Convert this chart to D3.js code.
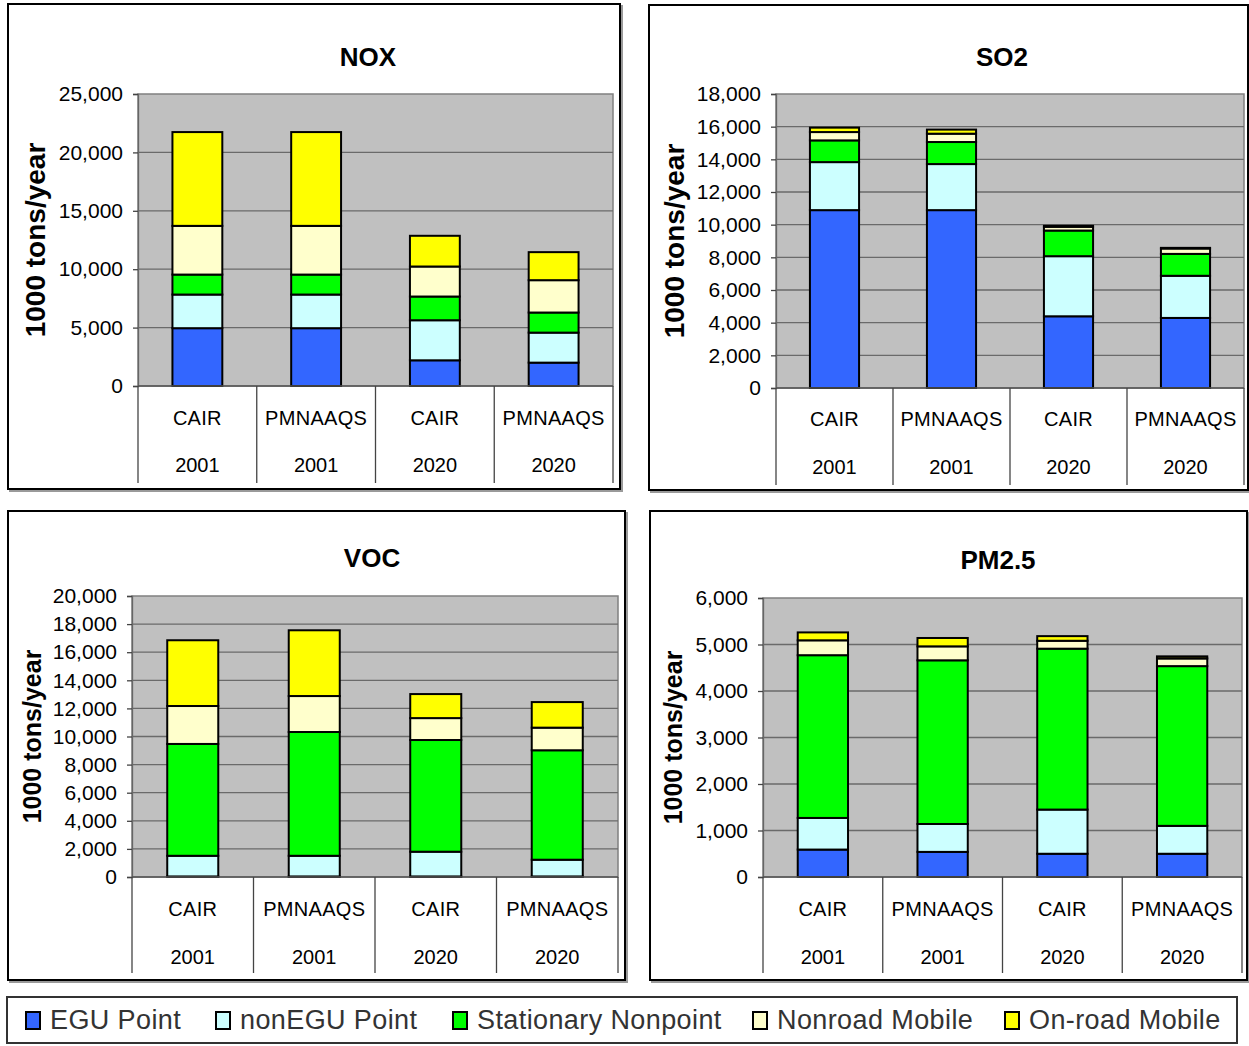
<!DOCTYPE html>
<html>
<head>
<meta charset="utf-8">
<script src="https://cdn.jsdelivr.net/npm/d3@7/dist/d3.min.js"></script>
<style>
  html, body { margin: 0; padding: 0; background: #fff; }
  svg { display: block; font-family: "Liberation Sans", Arial, sans-serif; }
</style>
</head>
<body>
<svg id="chart" width="1249" height="1046"></svg>
<script>
// Emission sectors stacked in every bar (bottom to top)
const sectors = ["EGU Point", "nonEGU Point", "Stationary Nonpoint", "Nonroad Mobile", "On-road Mobile"];
const sectorColors = ["#3366ff", "#ccffff", "#00ff00", "#ffffcc", "#ffff00"];

// Scenario / year pairs along the category axis
const scenarios = ["CAIR", "PMNAAQS", "CAIR", "PMNAAQS"];
const years = ["2001", "2001", "2020", "2020"];

// Emissions, 1000 tons/year: one row per scenario, one column per sector
const noxValues = [
  [4950, 2880, 1710, 4170, 8030],
  [4950, 2880, 1710, 4170, 8030],
  [2200, 3430, 2030, 2570, 2630],
  [2000, 2570, 1720, 2770, 2400]
];
const so2Values = [
  [10890, 2940, 1330, 510, 270],
  [10890, 2820, 1350, 510, 250],
  [4390, 3680, 1570, 230, 60],
  [4290, 2580, 1340, 330, 40]
];
const vocValues = [
  [40, 1470, 7960, 2700, 4680],
  [40, 1470, 8810, 2560, 4680],
  [40, 1760, 7950, 1560, 1710],
  [40, 1190, 7790, 1610, 1820]
];
const pm25Values = [
  [590, 680, 3500, 320, 170],
  [540, 600, 3520, 300, 180],
  [500, 950, 3460, 170, 100],
  [500, 600, 3435, 165, 45]
];

// Y axis tick values for each pollutant
const noxTicks = [0, 5000, 10000, 15000, 20000, 25000];
const so2Ticks = [0, 2000, 4000, 6000, 8000, 10000, 12000, 14000, 16000, 18000];
const vocTicks = [0, 2000, 4000, 6000, 8000, 10000, 12000, 14000, 16000, 18000, 20000];
const pm25Ticks = [0, 1000, 2000, 3000, 4000, 5000, 6000];

const yLabel = "1000 tons/year";

// Panel geometry
const panels = [
  { title: "NOX", values: noxValues, ticks: noxTicks,
    box: { x: 8, y: 4, w: 612, h: 485 },
    plot: { l: 138, t: 94, r: 613, b: 386 },
    titleY: 66, titleX: 368, labelX: 45, labelSize: 28,
    row1: 418, row2: 465, divBottom: 483 },
  { title: "SO2", values: so2Values, ticks: so2Ticks,
    box: { x: 649, y: 5, w: 599, h: 485 },
    plot: { l: 776, t: 94, r: 1244, b: 388 },
    titleY: 66, titleX: 1002, labelX: 684, labelSize: 28,
    row1: 419, row2: 467, divBottom: 485 },
  { title: "VOC", values: vocValues, ticks: vocTicks,
    box: { x: 8, y: 511, w: 617, h: 469 },
    plot: { l: 132, t: 596, r: 618, b: 877 },
    titleY: 567, titleX: 372, labelX: 41, labelSize: 25,
    row1: 909, row2: 957, divBottom: 973 },
  { title: "PM2.5", values: pm25Values, ticks: pm25Ticks,
    box: { x: 650, y: 511, w: 597, h: 469 },
    plot: { l: 763, t: 598, r: 1242, b: 877 },
    titleY: 569, titleX: 998, labelX: 682, labelSize: 25,
    row1: 909, row2: 957, divBottom: 973 }
];

const svg = d3.select("#chart");
const fmt = d3.format(",");
const stack = d3.stack().keys(d3.range(sectors.length));

panels.forEach(p => {
  const g = svg.append("g");
  const { l, t, r, b } = p.plot;

  // Chart frame with a light shadow
  g.append("rect")
    .attr("x", p.box.x + 2).attr("y", p.box.y + 2)
    .attr("width", p.box.w).attr("height", p.box.h)
    .attr("fill", "none").attr("stroke", "#9a9a9a").attr("stroke-width", 2);
  g.append("rect")
    .attr("x", p.box.x).attr("y", p.box.y)
    .attr("width", p.box.w).attr("height", p.box.h)
    .attr("fill", "#fff").attr("stroke", "#000").attr("stroke-width", 2);

  // Title
  g.append("text")
    .attr("x", p.titleX).attr("y", p.titleY)
    .attr("text-anchor", "middle")
    .attr("font-size", 26).attr("font-weight", "bold")
    .text(p.title);

  const y = d3.scaleLinear()
    .domain([0, d3.max(p.ticks)])
    .range([b, t]);
  const x = d3.scaleBand()
    .domain(d3.range(scenarios.length))
    .range([l, r])
    .paddingInner(0.58)
    .paddingOuter(0.29);

  // Plot area
  g.append("rect")
    .attr("x", l).attr("y", t).attr("width", r - l).attr("height", b - t)
    .attr("fill", "#c0c0c0").attr("stroke", "#808080").attr("stroke-width", 1.5);

  // Horizontal gridlines
  g.append("g").selectAll("line")
    .data(p.ticks.filter(v => v > 0 && v < d3.max(p.ticks)))
    .join("line")
    .attr("x1", l).attr("x2", r)
    .attr("y1", d => y(d)).attr("y2", d => y(d))
    .attr("stroke", "#6a6a6a").attr("stroke-width", 1.3);

  // Y axis
  const yAxis = d3.axisLeft(y).tickValues(p.ticks).tickFormat(fmt).tickSize(5).tickPadding(10);
  const ya = g.append("g").attr("transform", `translate(${l},0)`).call(yAxis);
  ya.select(".domain").attr("stroke", "#666").attr("stroke-width", 1.3);
  ya.selectAll(".tick line").attr("stroke", "#444").attr("stroke-width", 1.3);
  ya.selectAll(".tick text")
    .attr("font-size", 21).attr("fill", "#000")
    .attr("font-family", "'Liberation Sans', Arial, sans-serif");

  // Y axis title
  g.append("text")
    .attr("transform", `translate(${p.labelX},${(t + b) / 2}) rotate(-90)`)
    .attr("text-anchor", "middle")
    .attr("font-size", p.labelSize).attr("font-weight", "bold")
    .text(yLabel);

  // Stacked bars
  const series = stack(p.values);
  g.append("g").selectAll("g")
    .data(series)
    .join("g")
    .attr("fill", (d, i) => sectorColors[i])
    .selectAll("rect")
    .data(d => d.map((seg, j) => ({ seg, j })))
    .join("rect")
    .attr("x", d => x(d.j))
    .attr("width", x.bandwidth())
    .attr("y", d => y(d.seg[1]))
    .attr("height", d => y(d.seg[0]) - y(d.seg[1]))
    .attr("stroke", "#000").attr("stroke-width", 2);

  // Category axis: baseline, dividers and two label rows
  const step = x.step();
  g.append("line")
    .attr("x1", l).attr("x2", r).attr("y1", b).attr("y2", b)
    .attr("stroke", "#555").attr("stroke-width", 1.3);
  g.append("g").selectAll("line")
    .data(d3.range(scenarios.length + 1))
    .join("line")
    .attr("x1", i => l + i * step).attr("x2", i => l + i * step)
    .attr("y1", b).attr("y2", p.divBottom)
    .attr("stroke", "#444").attr("stroke-width", 1.3);

  const cats = g.append("g");
  cats.selectAll("text.scen")
    .data(scenarios)
    .join("text").attr("class", "scen")
    .attr("x", (d, i) => l + (i + 0.5) * step)
    .attr("y", p.row1 + 7)
    .attr("text-anchor", "middle").attr("font-size", 20)
    .attr("letter-spacing", 0.3)
    .text(d => d);
  cats.selectAll("text.year")
    .data(years)
    .join("text").attr("class", "year")
    .attr("x", (d, i) => l + (i + 0.5) * step)
    .attr("y", p.row2 + 7)
    .attr("text-anchor", "middle").attr("font-size", 20)
    .text(d => d);
});

// Shared legend
const legend = svg.append("g");
legend.append("rect")
  .attr("x", 7).attr("y", 997).attr("width", 1230).attr("height", 46)
  .attr("fill", "#fff").attr("stroke", "#333").attr("stroke-width", 2);
const legendX = [26, 216, 453, 753, 1005];
const items = legend.selectAll("g.item")
  .data(sectors)
  .join("g").attr("class", "item")
  .attr("transform", (d, i) => `translate(${legendX[i]},1012)`);
items.append("rect")
  .attr("width", 14).attr("height", 17)
  .attr("fill", (d, i) => sectorColors[i])
  .attr("stroke", "#000").attr("stroke-width", 2);
items.append("text")
  .attr("x", 24).attr("y", 17)
  .attr("font-size", 27).attr("fill", "#333")
  .attr("letter-spacing", 0.4)
  .text(d => d);
</script>
</body>
</html>
